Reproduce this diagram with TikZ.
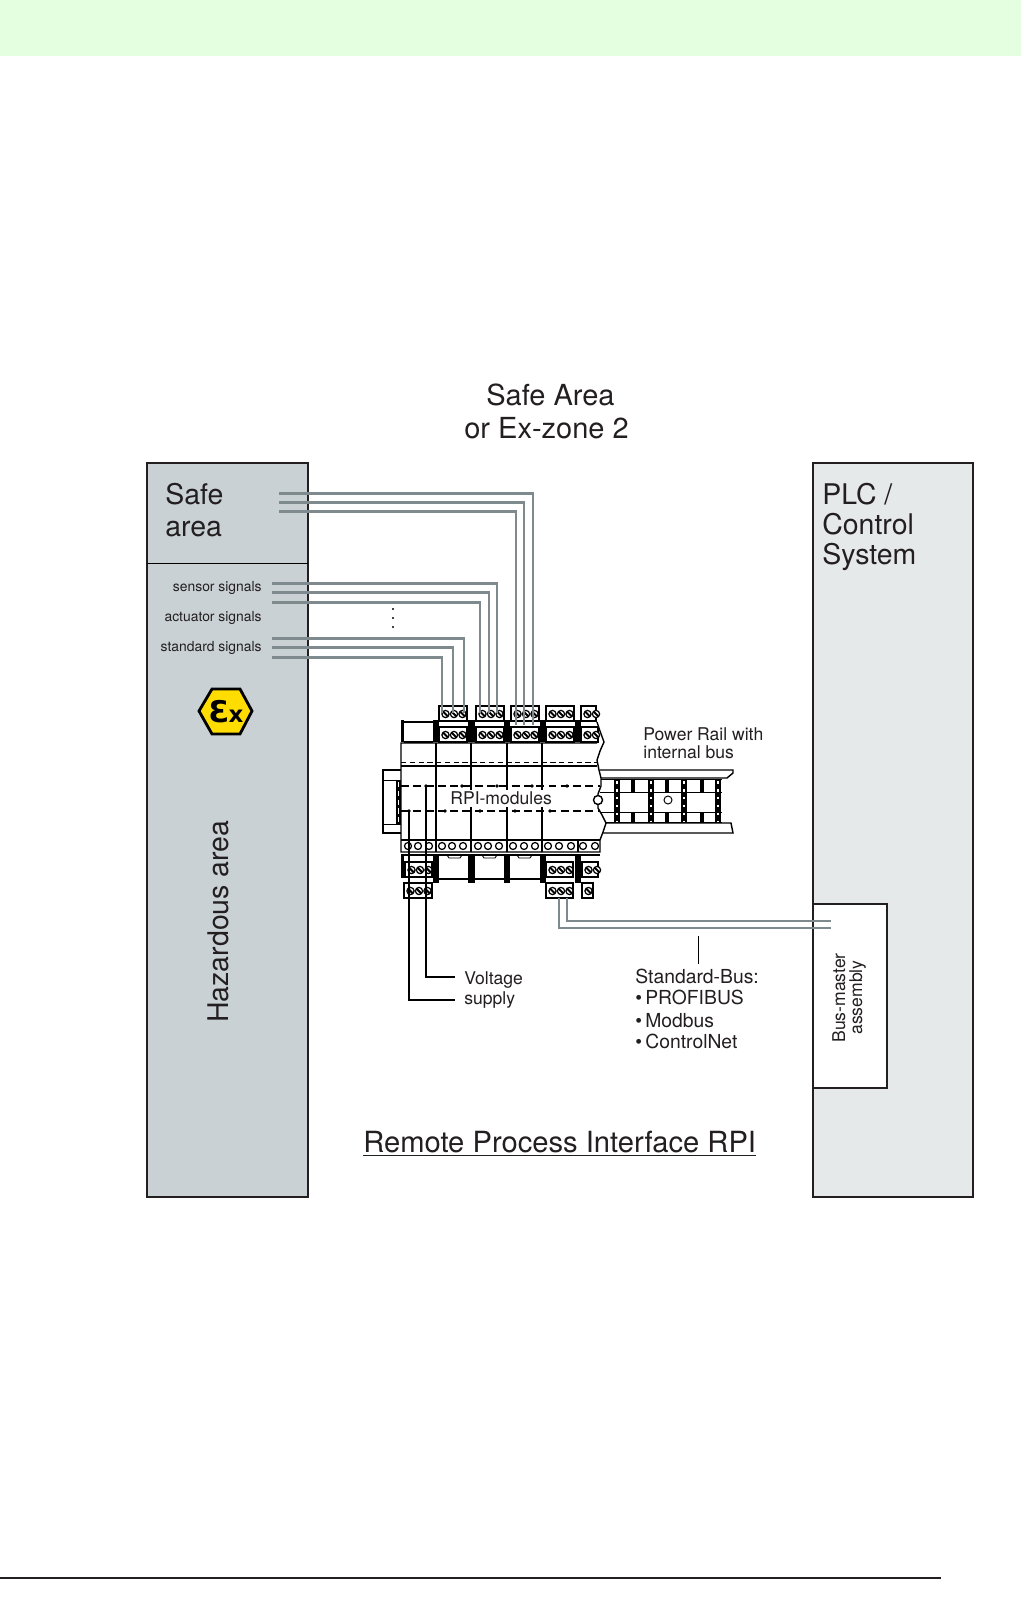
\documentclass[tikz,border=0pt]{standalone}
\usepackage{fontspec}
\setmainfont{TeX Gyre Heros}
\newfontfamily\exfont{DejaVu Sans Bold}
\usetikzlibrary{arrows.meta}

\definecolor{inktext}{HTML}{231F20}
\definecolor{hazardgrey}{HTML}{C9D1D4}
\definecolor{plcgrey}{HTML}{E6E9EA}
\definecolor{bannergreen}{HTML}{E3FFE0}
\definecolor{wiregrey}{HTML}{7F8A8F}
\definecolor{exyellow}{HTML}{FFDD00}

\tikzset{
  labeltext/.style={inner sep=0pt, anchor=base west, text=inktext},
  hugetext/.style={labeltext, font=\fontsize{16.2}{18}\selectfont},
  titletext/.style={labeltext, font=\fontsize{16.5}{18}\selectfont},
  midtext/.style={labeltext, font=\fontsize{10}{12}\selectfont},
  bustext/.style={labeltext, font=\fontsize{11}{13}\selectfont},
  smalltext/.style={labeltext, font=\fontsize{7.9}{9}\selectfont},
  signalwire/.style={draw=wiregrey, line width=1.7pt},
  buswire/.style={draw=wiregrey, line width=0.6pt},
  supplywire/.style={draw=black, line width=0.6pt},
  panelbox/.style={draw=inktext, line width=0.9pt},
  inkline/.style={draw=black, line width=0.55pt},
  blockbox/.style={draw=black, fill=white, line width=1.1pt},
  postbar/.style={fill=black, draw=none},
}

% one terminal block: left edge, top edge, width, number of screws
\newcommand{\clampblock}[4]{
  \draw[blockbox] (#1,#2) rectangle ({#1+#3},{#2+15});
  \foreach \screw in {1,...,#4} {
    \draw[black, line width=0.7pt, fill=white] ({#1-2+\screw*8.5},{#2+8}) circle[radius=3.6];
    \draw[black, line width=1.2pt] ({#1-2+\screw*8.5-2.5},{#2+8-2.5}) -- ({#1-2+\screw*8.5+2.5},{#2+8+2.5});
  }
}

\begin{document}
\begin{tikzpicture}[x=0.02cm, y=-0.02cm, line join=miter]
  \useasboundingbox (0,0) rectangle (1021,1600);
  \fill[white] (0,0) rectangle (1021,1600);

  % --- page furniture
  \fill[bannergreen] (0,0) rectangle (1021,56);
  \draw[draw=inktext, line width=0.6pt] (0,1578) -- (941,1578);

  % --- the two side panels
  \draw[panelbox, fill=hazardgrey] (147,463) rectangle (308,1197);
  \draw[inkline] (147,563) -- (308,563);
  \draw[panelbox, fill=plcgrey] (813,463) rectangle (973,1197);
  \draw[panelbox, fill=white] (813,904) rectangle (887,1088);

  % --- panel texts
  \node[titletext] (safearea) at (486,405) {Safe Area};
  \node[titletext] (exzone) at (464,438) {or Ex-zone 2};
  \node[hugetext] (safeone) at (165,504) {Safe};
  \node[hugetext] (safetwo) at (165,536) {area};
  \node[smalltext, anchor=base east] (sensorlabel) at (262,591) {sensor signals};
  \node[smalltext, anchor=base east] (actuatorlabel) at (262,621) {actuator signals};
  \node[smalltext, anchor=base east] (standardlabel) at (262,651) {standard signals};
  \node[hugetext, rotate=90] (hazard) at (228,1023) {Hazardous area};
  \node[hugetext] (plcone) at (822,504) {PLC /};
  \node[hugetext] (plctwo) at (822,534) {Control};
  \node[hugetext] (plcthree) at (822,564) {System};
  \node[midtext, rotate=90] (busmaster) at (845,1043) {Bus-master};
  \node[midtext, rotate=90] (assembly) at (862,1035) {assembly};

  % --- the Ex mark
  \draw[fill=exyellow, draw=black, line width=1.6pt]
    (199,711) -- (212,689) -- (240,689) -- (252,711) -- (240,734) -- (212,734) -- cycle;
  \node[inner sep=0pt, font=\exfont] (exmark) at (226,712)
    {\fontsize{17}{17}\selectfont Ɛ\kern-0.5pt\fontsize{13}{13}\selectfont x};

  % --- the power rail
  \draw[black, line width=0.8pt, fill=white]
    (600,770) -- (733,770) -- (733,773) -- (727,778) -- (600,778);
  \draw[black, line width=0.8pt, fill=white]
    (600,823) -- (731,823) -- (733,833) -- (602,833);
  \draw[inkline] (600,779) -- (722,779) (600,792) -- (722,792)
    (600,812) -- (722,812) (600,822) -- (722,822);
  \foreach \at in {633, 667, 702} {
    \fill[postbar] ({\at-2},779) rectangle ({\at+2},792);
    \fill[postbar] ({\at-2},812) rectangle ({\at+2},822);
  }
  \foreach \at in {617, 651, 684, 718} {
    \fill[postbar] ({\at-3},779) rectangle ({\at+3},822);
    \draw[white, line width=0.9pt, dash pattern=on 1.5pt off 3pt] (\at,781) -- (\at,821);
  }
  \draw[inkline, fill=white] (668,800) circle[radius=4];

  % --- the clip on the left end
  \draw[black, line width=0.8pt, fill=white] (401,770) -- (383,770) -- (383,833) -- (401,833);
  \draw[inkline] (383,780) -- (396,780) (383,824) -- (401,824);
  \fill[postbar] (396,780) rectangle (401,824);
  \draw[white, line width=0.9pt, dash pattern=on 3pt off 2pt] (398.5,782) -- (398.5,822);

  % --- the body of the modules
  \draw[black, line width=0.8pt, fill=white]
    (597,722) -- (600,731) -- (604,742) -- (600,751) -- (597,760) -- (599,770) -- (601,778)
    -- (601,786) -- (598,794) -- (598,808) -- (602,815) -- (606,823) -- (603,832) -- (600,840)
    -- (600,852) -- (401,852) -- (401,743) -- (597,743);
  \draw[black, line width=1pt] (401,840) -- (600,840);
  \draw[black, line width=0.8pt] (401,766) -- (597,766);
  \draw[black, line width=0.4pt, dash pattern=on 3pt off 2pt] (401,762) -- (597,762);
  \draw[black, line width=0.8pt] (404,722) -- (433,722) (404,742) -- (433,742);
  \fill[postbar] (401,720) rectangle (404,742);
  \draw[black, line width=0.8pt, fill=white] (598,800) circle[radius=4.5];

  % --- dividers, posts and the row of holes
  \foreach \at in {436, 471, 507, 542} {
    \draw[black, line width=1.1pt] (\at,743) -- (\at,852);
  }
  \draw[black, line width=0.8pt] (578,840) -- (578,852);
  \foreach \at/\wide in {433/6, 468/7, 504/6, 540/6, 575/6} {
    \fill[postbar] (\at,720) rectangle ({\at+\wide},742);
    \fill[postbar] (\at,855) rectangle ({\at+\wide},883);
  }
  \fill[postbar] (401,855) rectangle (404,878);
  \draw[black, line width=0.9pt] (401,855) -- (600,855);
  \foreach \at in {447, 482, 517} {
    \draw[black, line width=0.5pt] (\at,855) -- ({\at+2},858) -- ({\at+13},858) -- ({\at+15},855);
  }
  \foreach \at in {408, 418, 429, 442, 452, 463, 478, 488, 499, 513, 524, 535, 548, 559, 571, 583, 595} {
    \draw[black, line width=0.7pt] (\at,846) circle[radius=3.5];
  }
  \draw[black, line width=0.8pt] (439,879) -- (540,879);

  % --- terminal blocks, top and bottom
  \foreach \at in {439, 476, 511, 546} {
    \clampblock{\at}{706}{28}{3}
    \clampblock{\at}{727}{28}{3}
  }
  \clampblock{581}{706}{15}{2}
  \clampblock{581}{727}{17}{2}
  \clampblock{405}{862}{27}{3}
  \clampblock{404}{883}{28}{3}
  \clampblock{546}{862}{27}{3}
  \clampblock{546}{883}{27}{3}
  \clampblock{582}{862}{16}{2}
  \clampblock{582}{883}{11}{1}

  % --- the two internal bus lines
  \coordinate (buslineone) at (401,786);
  \coordinate (buslineoneend) at (600,786);
  \coordinate (buslinetwo) at (401,811);
  \coordinate (buslinetwoend) at (600,811);
  \draw[black, line width=0.7pt, dash pattern=on 4.5pt off 2.5pt] (buslineone) -- (buslineoneend);
  \draw[black, line width=0.7pt, dash pattern=on 4.5pt off 2.5pt] (buslinetwo) -- (buslinetwoend);
  \foreach \at in {426, 462, 497, 532, 567} {
    \fill[black] (\at,786) circle[radius=1.8];
  }
  \foreach \at in {409, 445, 480, 515, 550} {
    \fill[black] (\at,811) circle[radius=1.8];
  }
  \fill[white] (449,790) rectangle (554,807);
  \node[labeltext, font=\fontsize{10}{12}\selectfont] (modules) at (450,804) {RPI-modules};
  \node[midtext] (railone) at (643,740) {Power Rail with};
  \node[midtext] (railtwo) at (643,758) {internal bus};

  % --- the signal wires, start and end of each
  \foreach \tag/\xa/\ya/\xb/\yb in {
    safeA/279/493/533/725, safeB/279/502/524/725, safeC/279/511/516/725,
    sensorA/272/583/497/713, sensorB/272/592/489/713, sensorC/272/602/480/713,
    standardA/272/638/464/713, standardB/272/647/453/713, standardC/272/657/442/713} {
    \coordinate (\tag from) at (\xa,\ya);
    \coordinate (\tag to) at (\xb,\yb);
    \draw[signalwire] (\tag from) -| (\tag to);
  }
  \foreach \at in {609, 618, 627} {
    \fill[black] (393,\at) circle[radius=1.1];
  }

  % --- voltage supply
  \coordinate (supplyone) at (426,786);
  \coordinate (supplyoneend) at (455,977);
  \coordinate (supplytwo) at (409,811);
  \coordinate (supplytwoend) at (455,1000);
  \draw[supplywire] (supplyone) |- (supplyoneend);
  \draw[supplywire] (supplytwo) |- (supplytwoend);
  \node[midtext] (voltageone) at (464,984) {Voltage};
  \node[midtext] (voltagetwo) at (464,1004) {supply};

  % --- standard bus
  \coordinate (busone) at (567,898);
  \coordinate (busoneend) at (831,921);
  \coordinate (bustwo) at (559,898);
  \coordinate (bustwoend) at (831,928);
  \draw[buswire] (busone) |- (busoneend);
  \draw[buswire] (bustwo) |- (bustwoend);
  \coordinate (tickfoot) at (698,964);
  \coordinate (tickhead) at (698,936);
  \draw[inkline] (tickhead) -- (tickfoot);
  \node[bustext] (standardbus) at (635,983) {Standard-Bus:};
  \node[bustext] (profibus) at (635,1004) {\textbullet\,PROFIBUS};
  \node[bustext] (modbus) at (635,1027) {\textbullet\,Modbus};
  \node[bustext] (controlnet) at (635,1048) {\textbullet\,ControlNet};

  % --- title
  \node[hugetext, font=\fontsize{16.6}{18}\selectfont] (rpititle) at (363,1152)
    {\underline{Remote Process Interface RPI}};
\end{tikzpicture}
\end{document}
